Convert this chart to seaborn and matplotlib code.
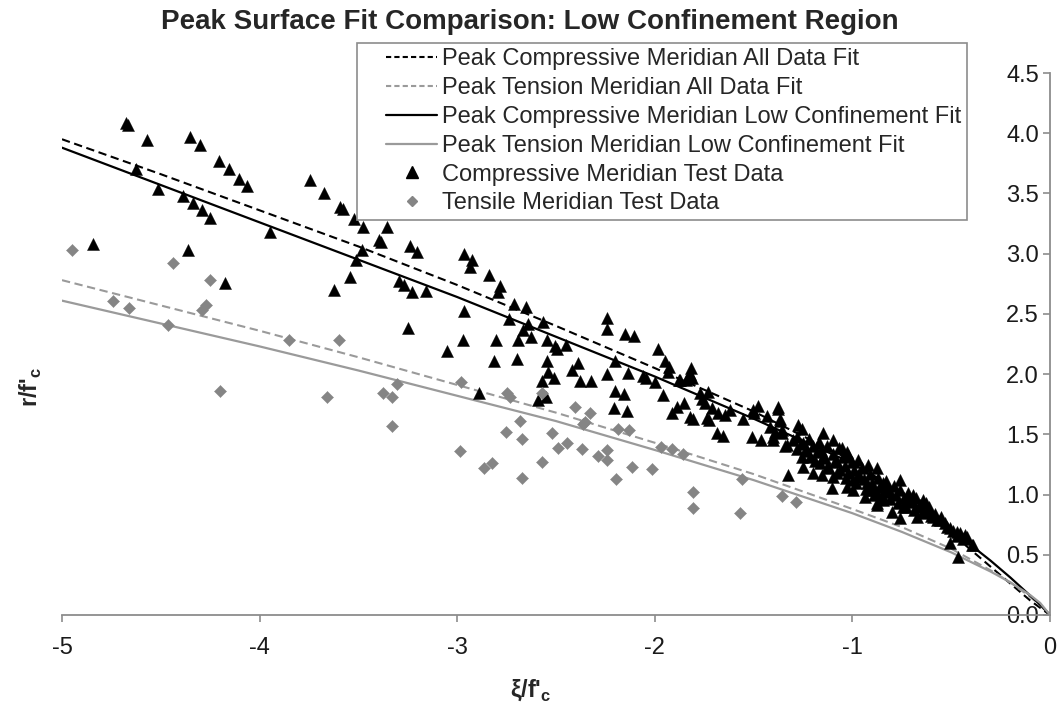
import matplotlib
matplotlib.use("Agg")
import matplotlib.pyplot as plt
import seaborn as sns
import pandas as pd
from matplotlib.lines import Line2D
from matplotlib.legend_handler import HandlerLine2D

# ---------------- data ----------------
fit_xi = [-5.0, -4.5, -4.0, -3.5, -3.0, -2.5, -2.0, -1.5, -1.0, -0.75, -0.5, -0.4, -0.3, -0.2, -0.1, -0.05, 0.0]
comp_all_fit = [3.95, 3.66, 3.36, 3.06, 2.74, 2.40, 2.05, 1.69, 1.28, 1.00, 0.68, 0.54, 0.40, 0.26, 0.12, 0.06, 0.0]
tens_all_fit = [2.78, 2.57, 2.36, 2.14, 1.91, 1.68, 1.43, 1.17, 0.88, 0.73, 0.55, 0.46, 0.37, 0.27, 0.15, 0.08, 0.0]
comp_low_fit = [3.88, 3.57, 3.26, 2.95, 2.64, 2.31, 1.98, 1.63, 1.26, 1.00, 0.71, 0.58, 0.45, 0.31, 0.16, 0.085, 0.0]
tens_low_fit = [2.61, 2.42, 2.23, 2.03, 1.82, 1.61, 1.37, 1.12, 0.845, 0.69, 0.52, 0.44, 0.36, 0.27, 0.165, 0.10, 0.0]

comp_xi = [-4.676, -4.665, -4.570, -4.352, -4.300, -4.205, -4.155, -4.104, -4.062, -4.627,
           -4.516, -4.386, -4.339, -4.291, -4.251, -4.845, -4.361, -4.175, -3.947, -3.743,
           -3.674, -3.593, -3.576, -3.524, -3.478, -3.353, -3.394, -3.387, -3.480, -3.512,
           -3.543, -3.623, -3.239, -3.204, -3.293, -3.268, -3.231, -3.158, -3.249, -3.053,
           -2.966, -2.927, -2.935, -2.966, -2.969, -2.839, -2.783, -2.792, -2.806, -2.814,
           -2.891, -2.711, -2.652, -2.738, -2.640, -2.665, -2.691, -2.627, -2.696, -2.564,
           -2.547, -2.505, -2.497, -2.449, -2.544, -2.539, -2.569, -2.509, -2.552, -2.590,
           -2.391, -2.418, -2.379, -2.325, -2.240, -2.240, -2.149, -2.104, -2.200, -2.240,
           -2.134, -2.201, -2.154, -2.206, -2.141, -2.061, -2.046, -1.999, -1.957, -1.982,
           -1.948, -1.926, -1.932, -1.876, -1.842, -1.817, -1.822, -1.889, -1.851, -1.915,
           -1.822, -1.805, -1.771, -1.729, -1.763, -1.746, -1.737, -1.724, -1.712, -1.679,
           -1.645, -1.619, -1.687, -1.656, -1.552, -1.502, -1.476, -1.496, -1.434, -1.378,
           -1.366, -1.510, -1.464, -1.403, -1.400, -1.333, -1.358, -1.830, -1.813, -1.870,
           -1.375, -1.366, -1.417, -1.392, -1.358, -1.341, -1.274, -1.257, -1.147, -1.097,
           -1.055, -1.029, -0.970, -0.920, -0.877, -1.282, -1.248, -1.231, -1.257, -1.215,
           -1.181, -1.147, -1.164, -1.130, -1.079, -1.063, -1.021, -0.995, -0.962, -0.928,
           -0.911, -0.877, -0.852, -0.844, -1.248, -1.198, -1.155, -1.097, -1.029, -0.995,
           -1.105, -0.936, -0.877, -1.324, -0.759, -0.894, -0.844, -0.810, -0.877, -0.801,
           -0.759, -0.725, -0.692, -0.658, -0.675, -0.624, -0.591, -0.557, -0.506, -0.455,
           -0.422, -0.506, -0.742, -0.641, -0.472, -0.430, -0.388, -0.464, -0.396,
           -1.30, -1.28, -1.26, -1.24, -1.22, -1.20, -1.19, -1.17, -1.16, -1.14,
           -1.13, -1.12, -1.10, -1.09, -1.08, -1.07, -1.05, -1.04, -1.03, -1.02,
           -1.00, -0.99, -0.98, -0.97, -0.95, -0.94, -0.93, -0.91, -0.90, -0.89,
           -0.87, -0.86, -0.85, -0.83, -0.82, -0.81, -0.79, -0.78, -0.77, -0.76,
           -0.74, -0.73, -0.72, -0.70, -0.69, -0.68, -0.66, -0.65, -0.63, -0.62,
           -0.60, -0.61, -0.58, -0.57, -0.55, -0.53, -0.52, -0.49, -0.47, -0.44]
comp_r = [4.089, 4.070, 3.940, 3.970, 3.900, 3.770, 3.700, 3.620, 3.560, 3.700,
          3.540, 3.480, 3.420, 3.360, 3.300, 3.080, 3.030, 2.760, 3.180, 3.610,
          3.505, 3.390, 3.370, 3.290, 3.225, 3.220, 3.115, 3.100, 3.030, 2.950,
          2.810, 2.700, 3.060, 3.010, 2.770, 2.740, 2.680, 2.690, 2.380, 2.195,
          2.996, 2.950, 2.890, 2.520, 2.284, 2.820, 2.735, 2.685, 2.280, 2.110,
          1.846, 2.580, 2.560, 2.460, 2.420, 2.370, 2.280, 2.305, 2.126, 2.436,
          2.280, 2.230, 2.210, 2.240, 2.107, 2.020, 1.940, 1.966, 1.813, 1.786,
          2.090, 2.035, 1.944, 1.944, 2.464, 2.375, 2.334, 2.320, 2.107, 2.000,
          2.012, 1.860, 1.833, 1.720, 1.694, 1.985, 1.966, 1.938, 1.827, 2.210,
          2.110, 2.060, 2.016, 1.952, 1.952, 2.050, 2.000, 1.730, 1.758, 1.675,
          1.647, 1.625, 1.840, 1.855, 1.790, 1.760, 1.633, 1.620, 1.716, 1.675,
          1.660, 1.700, 1.509, 1.487, 1.625, 1.700, 1.736, 1.675, 1.655, 1.725,
          1.625, 1.480, 1.453, 1.480, 1.453, 1.412, 1.537, 1.980, 1.966, 1.952,
          1.708, 1.614, 1.564, 1.523, 1.514, 1.404, 1.578, 1.542, 1.514, 1.453,
          1.385, 1.356, 1.287, 1.246, 1.218, 1.481, 1.426, 1.370, 1.315, 1.315,
          1.356, 1.315, 1.260, 1.232, 1.273, 1.204, 1.177, 1.121, 1.149, 1.094,
          1.038, 1.011, 1.066, 0.955, 1.232, 1.177, 1.163, 1.149, 1.066, 1.038,
          1.052, 0.983, 0.914, 1.163, 1.121, 1.038, 1.094, 1.024, 0.928, 0.858,
          0.803, 0.955, 0.997, 0.900, 0.817, 0.858, 0.817, 0.789, 0.720, 0.678,
          0.650, 0.595, 0.900, 0.955, 0.692, 0.664, 0.581, 0.484, 0.581,
          1.45, 1.38, 1.42, 1.36, 1.46, 1.40, 1.28, 1.44, 1.37, 1.30,
          1.40, 1.22, 1.34, 1.28, 1.18, 1.39, 1.31, 1.24, 1.14, 1.33,
          1.27, 1.20, 1.10, 1.16, 1.22, 1.13, 1.05, 1.17, 1.10, 1.00,
          1.14, 1.07, 1.00, 1.11, 1.04, 0.96, 1.07, 1.00, 0.93, 1.04,
          0.97, 0.90, 1.01, 0.94, 0.87, 0.97, 0.91, 0.85, 0.93, 0.87,
          0.82, 0.90, 0.84, 0.79, 0.81, 0.76, 0.73, 0.70, 0.66, 0.63]

tens_xi = [-4.949, -4.440, -4.251, -4.740, -4.659, -4.293, -4.273, -4.464, -3.853, -3.600,
           -3.306, -4.200, -3.657, -3.374, -3.329, -3.330, -2.981, -2.750, -2.733, -2.573,
           -2.404, -2.328, -2.365, -2.353, -2.682, -2.753, -2.674, -2.519, -2.446, -2.488,
           -2.370, -2.289, -2.244, -2.240, -2.185, -2.132, -2.986, -2.866, -2.822, -2.573,
           -2.670, -2.196, -2.117, -2.016, -1.970, -1.911, -1.856, -1.557, -1.805, -1.808,
           -1.569, -1.355, -1.287]
tens_r = [3.030, 2.920, 2.785, 2.605, 2.545, 2.530, 2.570, 2.410, 2.284, 2.287,
          1.920, 1.860, 1.810, 1.840, 1.810, 1.570, 1.938, 1.840, 1.808, 1.846,
          1.725, 1.675, 1.586, 1.605, 1.614, 1.522, 1.462, 1.514, 1.431, 1.385,
          1.376, 1.320, 1.287, 1.370, 1.542, 1.537, 1.362, 1.223, 1.260, 1.268,
          1.141, 1.130, 1.232, 1.210, 1.393, 1.379, 1.340, 1.127, 1.022, 0.886,
          0.845, 0.988, 0.936]

x_ticks = [-5, -4, -3, -2, -1, 0]
x_tick_labels = ["-5", "-4", "-3", "-2", "-1", "0"]
y_ticks = [0.0, 0.5, 1.0, 1.5, 2.0, 2.5, 3.0, 3.5, 4.0, 4.5]
y_tick_labels = ["0.0", "0.5", "1.0", "1.5", "2.0", "2.5", "3.0", "3.5", "4.0", "4.5"]

lbl_ca = "Peak Compressive Meridian All Data Fit"
lbl_ta = "Peak Tension Meridian All Data Fit"
lbl_cl = "Peak Compressive Meridian Low Confinement Fit"
lbl_tl = "Peak Tension Meridian Low Confinement Fit"
lbl_cd = "Compressive Meridian Test Data"
lbl_td = "Tensile Meridian Test Data"

# ---------------- style ----------------
sns.set_style("white")
plt.rcParams["font.family"] = ["Liberation Sans", "DejaVu Sans"]
plt.rcParams["mathtext.fontset"] = "custom"
plt.rcParams["mathtext.rm"] = "Liberation Sans"
plt.rcParams["mathtext.bf"] = "Liberation Sans:bold"

GRAY_LINE = "#9a9a9a"
GRAY_PT = "#858585"
AXIS_C = "#8c8c8c"

fig = plt.figure(figsize=(10.63, 7.06), dpi=100)
ax = fig.add_axes([0.0583, 0.1289, 0.9295, 0.7677])

fits = pd.DataFrame({"xi": fit_xi, "ca": comp_all_fit, "ta": tens_all_fit,
                     "cl": comp_low_fit, "tl": tens_low_fit})
comp_df = pd.DataFrame({"xi": comp_xi, "r": comp_r})
tens_df = pd.DataFrame({"xi": tens_xi, "r": tens_r})

dash = (0, (4, 2.2))
sns.lineplot(data=fits, x="xi", y="ca", ax=ax, color="black", lw=1.5,
             estimator=None, sort=False, label=lbl_ca)
ax.lines[-1].set_linestyle(dash)
sns.lineplot(data=fits, x="xi", y="ta", ax=ax, color=GRAY_LINE, lw=1.5,
             estimator=None, sort=False, label=lbl_ta)
ax.lines[-1].set_linestyle(dash)
sns.lineplot(data=fits, x="xi", y="cl", ax=ax, color="black", lw=1.6,
             estimator=None, sort=False, label=lbl_cl)
sns.lineplot(data=fits, x="xi", y="tl", ax=ax, color=GRAY_LINE, lw=1.6,
             estimator=None, sort=False, label=lbl_tl)
sns.scatterplot(data=comp_df, x="xi", y="r", ax=ax, marker="^", s=75,
                color="black", edgecolor="black", linewidth=0.3, label=lbl_cd, zorder=3)
sns.scatterplot(data=tens_df, x="xi", y="r", ax=ax, marker="D", s=38,
                color=GRAY_PT, edgecolor=GRAY_PT, linewidth=0.3, label=lbl_td, zorder=3)

ax.set_xlim(-5, 0)
ax.set_ylim(0, 4.5)

for s in ["top", "right"]:
    ax.spines[s].set_visible(False)
ax.spines["left"].set_position(("data", 0))
ax.spines["left"].set_color(AXIS_C)
ax.spines["bottom"].set_color(AXIS_C)
ax.spines["left"].set_linewidth(1.3)
ax.spines["bottom"].set_linewidth(1.3)
ax.spines["left"].set_zorder(0.5)

ax.set_xticks(x_ticks)
ax.set_xticklabels(x_tick_labels)
ax.set_yticks(y_ticks)
ax.set_yticklabels(y_tick_labels)
ax.tick_params(axis="both", which="both", direction="out", length=5, width=1.2,
               color=AXIS_C, labelsize=17, labelcolor="#1a1a1a")
ax.tick_params(axis="x", pad=11)
ax.tick_params(axis="y", pad=3)
ax.xaxis.set_ticks_position("bottom")
ax.yaxis.set_ticks_position("left")

ax.set_xlabel("ξ/f'$_\\mathbf{c}$", fontsize=17, fontweight="bold")
ax.set_ylabel("r/f'$_\\mathbf{c}$", fontsize=17, fontweight="bold")
ax.xaxis.set_label_coords(0.474, -0.115)
ax.yaxis.set_label_coords(-0.018, 0.42)

fig.text(0.4986, 0.969, "Peak Surface Fit Comparison: Low Confinement Region",
         ha="center", va="center", fontsize=20, fontweight="bold")


class OffsetLineHandler(HandlerLine2D):
    """Legend line drawn in the right part of the handle box."""
    def __init__(self, offset_frac=0.31, **kw):
        super().__init__(**kw)
        self.offset_frac = offset_frac

    def create_artists(self, legend, orig_handle, xdescent, ydescent, width,
                       height, fontsize, trans):
        off = width * self.offset_frac
        return super().create_artists(legend, orig_handle, xdescent - off, ydescent,
                                      width - off, height, fontsize, trans)


order = [lbl_ca, lbl_ta, lbl_cl, lbl_tl, lbl_cd, lbl_td]
new_handles = [
    Line2D([], [], color="black", lw=1.5, linestyle=(0, (2.5, 1.5))),
    Line2D([], [], color=GRAY_LINE, lw=1.5, linestyle=(0, (2.5, 1.5))),
    Line2D([], [], color="black", lw=1.6),
    Line2D([], [], color=GRAY_LINE, lw=1.6),
    Line2D([], [], color="black", marker="^", linestyle="none", markersize=8),
    Line2D([], [], color=GRAY_PT, marker="D", linestyle="none", markersize=5.5),
]
hm = {h: OffsetLineHandler() for h in new_handles}
leg = ax.legend(new_handles, order, loc="upper left", handler_map=hm,
                bbox_to_anchor=(0.336, 0.939), bbox_transform=fig.transFigure,
                fontsize=17, frameon=True, fancybox=False, borderaxespad=0,
                handlelength=3.18, handletextpad=0.2, labelspacing=0.29,
                borderpad=0.22)
leg.get_frame().set_edgecolor("#8c8c8c")
leg.get_frame().set_linewidth(1.2)
leg.get_frame().set_facecolor("white")
leg.get_frame().set_alpha(1)
leg.set_zorder(10)

fig.savefig("out.png", dpi=100)
